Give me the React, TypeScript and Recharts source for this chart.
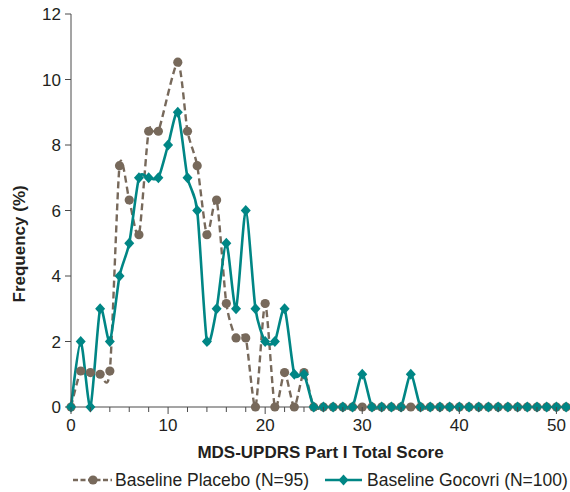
import { Line, LineChart, XAxis, YAxis } from "recharts";

const scores = [
  0, 1, 2, 3, 4, 5, 6, 7, 8, 9, 10, 11, 12, 13, 14, 15, 16, 17, 18, 19, 20, 21, 22, 23, 24, 25,
  26, 27, 28, 29, 30, 31, 32, 33, 34, 35, 36, 37, 38, 39, 40, 41, 42, 43, 44, 45, 46, 47, 48, 49,
  50, 51,
];

// % of patients at each score; placebo has no marker at 10
const placeboPct: (number | null)[] = [
  0, 1.1, 1.05, 1.0, 1.1, 7.37, 6.32, 5.26, 8.42, 8.42, null, 10.53, 8.42, 7.37, 5.26, 6.32, 3.16,
  2.11, 2.11, 0, 3.16, 0, 1.05, 0, 1.05, 0, 0, 0, 0, 0, 0, 0, 0, 0, 0, 0, 0, 0, 0, 0, 0, 0, 0, 0,
  0, 0, 0, 0, 0, 0, 0, 0,
];

const gocovriPct = [
  0, 2, 0, 3, 2, 4, 5, 7, 7, 7, 8, 9, 7, 6, 2, 3, 5, 3, 6, 3, 2, 2, 3, 1, 1, 0, 0, 0, 0, 0, 1, 0,
  0, 0, 0, 1, 0, 0, 0, 0, 0, 0, 0, 0, 0, 0, 0, 0, 0, 0, 0, 0,
];

const xTicks = [0, 2, 4, 6, 8, 10, 12, 14, 16, 18, 20, 22, 24, 26, 28, 30, 32, 34, 36, 38, 40, 42, 44, 46, 48, 50];
const yTicks = [0, 2, 4, 6, 8, 10, 12];
const seriesNames = ["Baseline Placebo (N=95)", "Baseline Gocovri (N=100)"];

const BROWN = "#77695b";
const TEAL = "#008685";
const AXIS = "#4a4a4a";
const INK = "#231f20";
const FONT = "'Liberation Sans', Arial, Helvetica, sans-serif";

const data = scores.map((x, i) => ({ x, placebo: placeboPct[i], gocovri: gocovriPct[i] }));

// cardinal spline, same maths as d3's curveCardinal
function cardinal(tension: number) {
  const k = (1 - tension) / 6;
  return (context: any) => {
    let x0 = NaN, y0 = NaN, x1 = NaN, y1 = NaN, x2 = NaN, y2 = NaN;
    let n = 0;
    let line: number = NaN;
    const seg = (x: number, y: number) =>
      context.bezierCurveTo(
        x1 + k * (x2 - x0),
        y1 + k * (y2 - y0),
        x2 + k * (x1 - x),
        y2 + k * (y1 - y),
        x2,
        y2,
      );
    return {
      areaStart() {
        line = 0;
      },
      areaEnd() {
        line = NaN;
      },
      lineStart() {
        x0 = x1 = x2 = y0 = y1 = y2 = NaN;
        n = 0;
      },
      lineEnd() {
        if (n === 2) context.lineTo(x2, y2);
        else if (n === 3) seg(x1, y1);
        if (line || (line !== 0 && n === 1)) context.closePath();
        line = 1 - line;
      },
      point(px: number, py: number) {
        const x = +px;
        const y = +py;
        if (n === 0) {
          n = 1;
          if (line) context.lineTo(x, y);
          else context.moveTo(x, y);
        } else if (n === 1) {
          n = 2;
          x1 = x;
          y1 = y;
        } else {
          n = 3;
          seg(x, y);
        }
        x0 = x1; x1 = x2; x2 = x;
        y0 = y1; y1 = y2; y2 = y;
      },
    };
  };
}

const smooth = cardinal(0.3);

const CircleDot = (props: any) => {
  const { cx, cy, index } = props;
  if (cx == null || cy == null) return <g key={`c-${index}`} />;
  return <circle key={`c-${index}`} cx={cx} cy={cy} r={4.6} fill={BROWN} />;
};

const DiamondDot = (props: any) => {
  const { cx, cy, index } = props;
  if (cx == null || cy == null) return <g key={`d-${index}`} />;
  return (
    <path
      key={`d-${index}`}
      d={`M${cx},${cy - 5.5}L${cx + 5},${cy}L${cx},${cy + 5.5}L${cx - 5},${cy}Z`}
      fill={TEAL}
    />
  );
};

const XTick = (props: any) => {
  const { x, y, payload } = props;
  const major = payload.value % 10 === 0;
  return (
    <g>
      <line x1={x} x2={x} y1={y} y2={y + (major ? 7 : 5)} stroke={AXIS} strokeWidth={1} />
      {major && (
        <text x={x} y={y + 24} textAnchor="middle" fill={INK} fontSize={17} fontFamily={FONT}>
          {payload.value}
        </text>
      )}
    </g>
  );
};

const YTitle = (props: any) => {
  const vb = props.viewBox;
  const cx = 20;
  const cy = vb.y + vb.height * 0.585;
  return (
    <text
      x={cx}
      y={cy}
      transform={`rotate(-90 ${cx} ${cy})`}
      textAnchor="middle"
      dominantBaseline="central"
      fill={INK}
      fontSize={17}
      fontWeight="bold"
      fontFamily={FONT}
    >
      Frequency (%)
    </text>
  );
};

function LegendRow() {
  const text = { position: "absolute" as const, top: 0, lineHeight: "22px", whiteSpace: "nowrap" as const };
  return (
    <div
      style={{
        position: "absolute",
        top: 469,
        left: 0,
        width: 570,
        height: 22,
        fontFamily: FONT,
        fontSize: 17.5,
        color: INK,
      }}
    >
      <svg style={{ position: "absolute", left: 73, top: 0 }} width={40} height={22}>
        <line x1={0} x2={39} y1={11} y2={11} stroke={BROWN} strokeWidth={2.4} strokeDasharray="5 2.5" />
        <circle cx={20} cy={11} r={4.6} fill={BROWN} />
      </svg>
      <span style={{ ...text, left: 115 }}>{seriesNames[0]}</span>
      <svg style={{ position: "absolute", left: 325, top: 0 }} width={40} height={22}>
        <line x1={0} x2={37} y1={11} y2={11} stroke={TEAL} strokeWidth={2.6} />
        <path d="M18.5,5.5L23.5,11L18.5,16.5L13.5,11Z" fill={TEAL} />
      </svg>
      <span style={{ ...text, left: 367 }}>{seriesNames[1]}</span>
    </div>
  );
}

export default function App() {
  return (
    <div style={{ position: "absolute", left: 0, top: 0, width: 570, height: 492, background: "#fff" }}>
      <LineChart
        width={570}
        height={492}
        data={data}
        margin={{ top: 14, right: 0, left: 21, bottom: 23 }}
      >
        <XAxis
          dataKey="x"
          type="number"
          domain={[0, 51.4]}
          ticks={xTicks}
          interval={0}
          height={62}
          stroke={AXIS}
          tickLine={false}
          tickSize={0}
          tickMargin={0}
          tick={<XTick />}
          label={{
            value: "MDS-UPDRS Part I Total Score",
            position: "insideBottom",
            offset: 11,
            fill: INK,
            fontSize: 17,
            fontWeight: "bold",
            fontFamily: FONT,
          }}
        />
        <YAxis
          type="number"
          domain={[0, 12]}
          ticks={yTicks}
          interval={0}
          width={50}
          stroke={AXIS}
          tickSize={6}
          tickMargin={4}
          tick={{ fill: INK, fontSize: 17, fontFamily: FONT }}
          label={YTitle}
        />
        <Line
          dataKey="placebo"
          type={smooth as any}
          stroke={BROWN}
          strokeWidth={2.4}
          strokeDasharray="7 4"
          connectNulls
          dot={CircleDot}
          activeDot={false}
          isAnimationActive={false}
        />
        <Line
          dataKey="gocovri"
          type={smooth as any}
          stroke={TEAL}
          strokeWidth={2.6}
          dot={DiamondDot}
          activeDot={false}
          isAnimationActive={false}
        />
      </LineChart>
      <LegendRow />
    </div>
  );
}
